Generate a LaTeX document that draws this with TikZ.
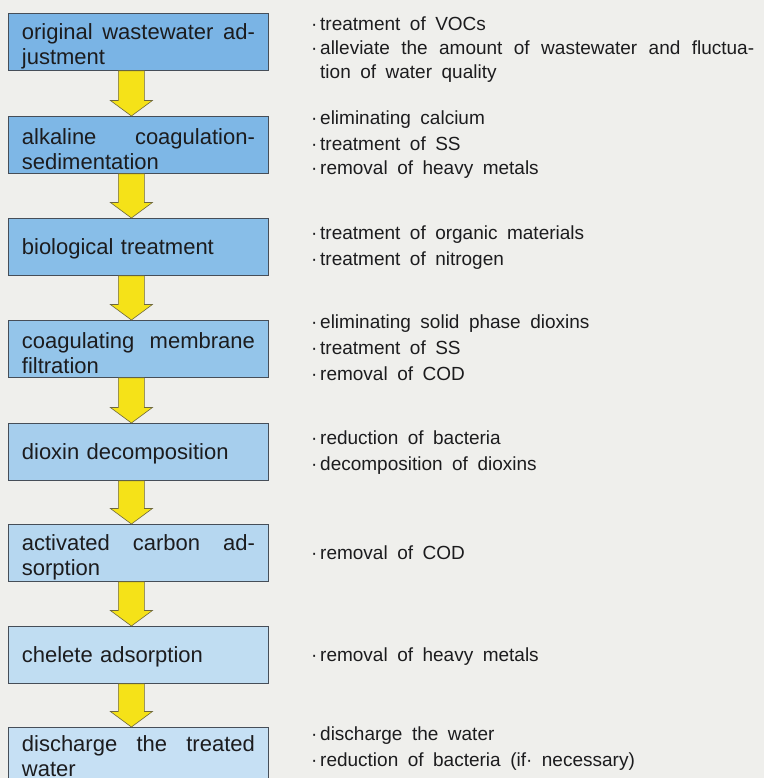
\documentclass[tikz,border=0pt]{standalone}
\usepackage{fontspec}
\setmainfont{Liberation Sans}
\usetikzlibrary{calc}

\definecolor{paper}{RGB}{239,239,236}
\definecolor{inkc}{RGB}{28,28,30}
\definecolor{edgec}{RGB}{70,78,88}
\definecolor{stageA}{RGB}{122,180,229}
\definecolor{stageB}{RGB}{126,183,230}
\definecolor{stageC}{RGB}{136,190,232}
\definecolor{stageD}{RGB}{148,197,234}
\definecolor{stageE}{RGB}{166,206,237}
\definecolor{stageF}{RGB}{182,215,240}
\definecolor{stageG}{RGB}{192,221,242}
\definecolor{stageH}{RGB}{198,224,244}
\definecolor{arrowfill}{RGB}{245,226,24}
\definecolor{arrowedge}{RGB}{110,104,60}

\newcommand\itemdot{\makebox[9pt][l]{·}}
% a line spread over the full width of a stage box
\newcommand\fullline[1]{\makebox[233pt][s]{#1}}
% invisible struts that lower the text a little inside a box
\newcommand\lowtwo{\rule{0pt}{24pt}}
\newcommand\lowone{\rule{0pt}{20pt}}

\tikzset{
  stage/.style={draw=edgec, line width=0.8pt, rectangle, anchor=north west,
    minimum width=260pt, minimum height=57pt, text width=233pt,
    inner xsep=13.5pt, inner ysep=0pt, align=left, text=inkc,
    font={\fontsize{22}{25}\selectfont\spaceskip=.45em plus .2em minus .05em\relax}},
  note/.style={anchor=base west, inner sep=0pt, text=inkc,
    font={\fontsize{19}{24}\selectfont\spaceskip=.5em plus .2em minus .05em\relax}},
  flow/.style={fill=arrowfill, draw=arrowedge, line width=0.6pt, line join=miter}
}

% yellow block arrow from the bottom of one stage to the top of the next
\newcommand\flowarrow[2]{%
  \draw[flow] let \p1=(#1.south), \p2=(#2.north) in
    (\x1-20pt,\y1) -- (\x1+6pt,\y1) -- (\x1+6pt,\y2+15.5pt) --
    (\x1+14pt,\y2+15.5pt) -- (\x1-7pt,\y2) -- (\x1-28pt,\y2+15.5pt) --
    (\x1-20pt,\y2+15.5pt) -- cycle;}

\begin{document}
\begin{tikzpicture}[x=1pt, y=-1pt]
  \useasboundingbox (0,0) rectangle (764,778);
  \clip (0,0) rectangle (764,778);
  \fill[paper] (0,0) rectangle (764,778);

  % process stages
  \node[stage, fill=stageA] (b1) at (8,13)  {\lowtwo\fullline{original\hfill wastewater\hfill ad-}\\justment};
  \node[stage, fill=stageB] (b2) at (8,116) {\lowtwo\fullline{alkaline\hfill coagulation-}\\sedimentation};
  \node[stage, fill=stageC] (b3) at (8,218) {\lowone biological treatment};
  \node[stage, fill=stageD] (b4) at (8,320) {\lowtwo\fullline{coagulating\hfill membrane}\\filtration};
  \node[stage, fill=stageE] (b5) at (8,423) {\lowone dioxin decomposition};
  \node[stage, fill=stageF] (b6) at (8,524) {\lowtwo\fullline{activated\hfill carbon\hfill ad-}\\sorption};
  \node[stage, fill=stageG] (b7) at (8,626) {\lowone chelete adsorption};
  \node[stage, fill=stageH] (b8) at (8,727) {\fullline{discharge\hfill the\hfill treated}\\water};

  \flowarrow{b1}{b2}
  \flowarrow{b2}{b3}
  \flowarrow{b3}{b4}
  \flowarrow{b4}{b5}
  \flowarrow{b5}{b6}
  \flowarrow{b6}{b7}
  \flowarrow{b7}{b8}

  % purpose of each stage
  \node[note] (r1a) at (311,31) {\itemdot treatment of VOCs};
  \node[note] (r1b) at (311,55) {\itemdot\makebox[434pt][s]{alleviate\hfill the\hfill amount\hfill of\hfill wastewater\hfill and\hfill fluctua-}};
  \node[note] (r1c) at (320,79) {tion of water quality};

  \node[note] (r2a) at (311,125) {\itemdot eliminating calcium};
  \node[note] (r2b) at (311,150) {\itemdot treatment of SS};
  \node[note] (r2c) at (311,175) {\itemdot removal of heavy metals};

  \node[note] (r3a) at (311,239) {\itemdot treatment of organic materials};
  \node[note] (r3b) at (311,265) {\itemdot treatment of nitrogen};

  \node[note] (r4a) at (311,328) {\itemdot eliminating solid phase dioxins};
  \node[note] (r4b) at (311,354) {\itemdot treatment of SS};
  \node[note] (r4c) at (311,380) {\itemdot removal of COD};

  \node[note] (r5a) at (311,444) {\itemdot reduction of bacteria};
  \node[note] (r5b) at (311,470) {\itemdot decomposition of dioxins};

  \node[note] (r6a) at (311,559) {\itemdot removal of COD};

  \node[note] (r7a) at (311,661) {\itemdot removal of heavy metals};

  \node[note] (r8a) at (311,740) {\itemdot discharge the water};
  \node[note] (r8b) at (311,766) {\itemdot reduction of bacteria (if· necessary)};
\end{tikzpicture}
\end{document}
